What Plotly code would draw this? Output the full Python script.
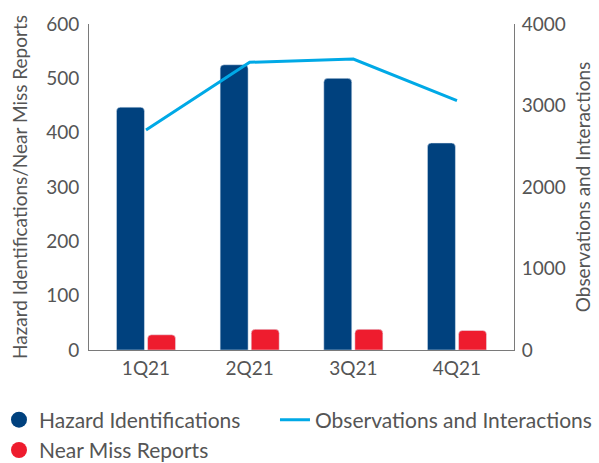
import plotly.graph_objects as go

quarters = ["1Q21", "2Q21", "3Q21", "4Q21"]
hazard = [447, 525, 500, 381]
near_miss = [28, 38, 38, 36]
observations = [2700, 3530, 3570, 3060]

C_HAZ = "#00417e"
C_NM = "#ee1c2e"
C_OBS = "#00a9e6"
TXT = "#555555"
AX = "#7a7a7a"
FONT = "Lato"
FS = 19
LFS = 21

fig = go.Figure()
fig.add_trace(go.Bar(x=quarters, y=hazard, name="Hazard Identifications",
                     marker=dict(color=C_HAZ, cornerradius=4), showlegend=False))
fig.add_trace(go.Bar(x=quarters, y=near_miss, name="Near Miss Reports",
                     marker=dict(color=C_NM, cornerradius=4), showlegend=False))
fig.add_trace(go.Scatter(x=quarters, y=observations, name="Observations and Interactions",
                         mode="lines", line=dict(color=C_OBS, width=3), yaxis="y2",
                         legend="legend2"))
# legend entries with circle symbols
fig.add_trace(go.Scatter(x=[None], y=[None], mode="markers", name="Hazard Identifications",
                         marker=dict(color=C_HAZ, size=19, symbol="circle"),
                         legendgroup="a", legend="legend"))
fig.add_trace(go.Scatter(x=[None], y=[None], mode="markers", name="Near Miss Reports",
                         marker=dict(color=C_NM, size=19, symbol="circle"),
                         legendgroup="b", legend="legend"))

fig.update_layout(
    width=599, height=463,
    margin=dict(l=89, r=85, t=24, b=113, autoexpand=False),
    paper_bgcolor="white", plot_bgcolor="white",
    font=dict(family=FONT, size=FS, color=TXT),
    barmode="group", bargap=0.40, bargroupgap=0.1,
    xaxis=dict(type="category", range=[-0.55, 3.55], showgrid=False,
               showline=True, linecolor=AX, linewidth=1, ticks="",
               ticklabelstandoff=1,
               tickfont=dict(size=FS, color=TXT), zeroline=False),
    yaxis=dict(range=[0, 600], dtick=100, showgrid=False, zeroline=False,
               showline=True, linecolor=AX, linewidth=1, ticks="",
               ticklabelstandoff=5, automargin=False,
               title=dict(text="Hazard Identifications/Near Miss Reports",
                          font=dict(size=FS, color=TXT), standoff=13)),
    yaxis2=dict(range=[0, 4000], dtick=1000, overlaying="y", side="right",
                showgrid=False, zeroline=False, showline=True, linecolor=AX,
                linewidth=1, ticks="", ticklabelstandoff=3, automargin=False,
                title=dict(text="Observations and Interactions",
                           font=dict(size=FS, color=TXT), standoff=11)),
    legend=dict(x=-0.2118, xanchor="left", y=-0.152, yanchor="top",
                orientation="v", traceorder="grouped", tracegroupgap=0,
                font=dict(size=LFS, color=TXT), bgcolor="rgba(0,0,0,0)"),
    legend2=dict(x=0.4376, xanchor="left", y=-0.152, yanchor="top",
                 orientation="h", font=dict(size=LFS, color=TXT),
                 bgcolor="rgba(0,0,0,0)"),
)

fig.write_html(
    "out.html",
    config={"displayModeBar": False},
    post_script="document.body.style.margin='0';document.body.style.overflow='hidden';",
)
